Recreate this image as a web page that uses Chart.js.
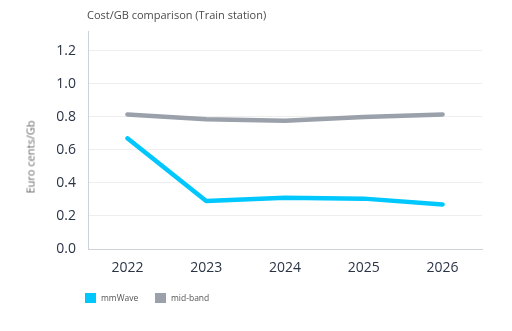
<!DOCTYPE html>
<html><head><meta charset="utf-8">
<script src="https://cdn.jsdelivr.net/npm/chart.js@4"></script>
<style>
html,body{margin:0;padding:0;background:#fff;}
#wrap{position:relative;width:512px;height:331px;font-family:"Open Sans",sans-serif;}
#c{position:absolute;left:0;top:0;}
#title{position:absolute;left:87px;top:7px;font-size:11px;color:#4a4a4a;white-space:nowrap;}
#ytitle{position:absolute;left:30px;top:157px;font-size:11px;font-weight:400;color:#6a6a6a;white-space:nowrap;transform:translate(-50%,-50%) rotate(-90deg);}
#legend{position:absolute;left:85px;top:292px;font-size:8.5px;color:#555;display:flex;align-items:center;}
.item{display:flex;align-items:center;}
.box{width:11px;height:10px;margin-right:5px;}
</style></head>
<body><div id="wrap">
<canvas id="c" width="512" height="331"></canvas>
<div id="title">Cost/GB comparison (Train station)</div>
<div id="ytitle">Euro cents/Gb</div>
<div id="legend"></div>
</div>
<script>
const categories = ["2022","2023","2024","2025","2026"];
const mmWave = [0.67, 0.29, 0.31, 0.305, 0.27];
const midBand = [0.815, 0.786, 0.776, 0.80, 0.815];
const seriesNames = ["mmWave","mid-band"];
const seriesColors = ["#00c8ff","#9aa1ab"];

const lg = document.getElementById('legend');
seriesNames.forEach((n,i)=>{
  const it=document.createElement('div');it.className='item';
  it.style.width = i===0 ? '70px' : 'auto';
  const b=document.createElement('div');b.className='box';b.style.background=seriesColors[i];
  const t=document.createElement('span');t.textContent=n;
  it.appendChild(b);it.appendChild(t);lg.appendChild(it);
});

new Chart(document.getElementById('c'),{
  type:'line',
  data:{labels:categories,datasets:[
    {label:seriesNames[0],data:mmWave,borderColor:seriesColors[0],backgroundColor:seriesColors[0],borderWidth:4.5,pointRadius:0,tension:0,borderCapStyle:'round',borderJoinStyle:'round'},
    {label:seriesNames[1],data:midBand,borderColor:seriesColors[1],backgroundColor:seriesColors[1],borderWidth:4.5,pointRadius:0,tension:0,borderCapStyle:'round',borderJoinStyle:'round'}
  ]},
  options:{
    responsive:false,animation:false,
    layout:{padding:{left:18,right:30,top:31,bottom:0}},
    plugins:{legend:{display:false},title:{display:false},tooltip:{enabled:false}},
    scales:{
      x:{offset:true,
        grid:{display:false,drawTicks:false},
        border:{color:'#cdd1d9',width:1},
        ticks:{padding:11,color:'#2b3445',font:{family:'Open Sans',size:14}},
        afterFit:s=>{s.height=82;}
      },
      y:{min:0,max:1.32,
        grid:{color:'#eeeeee',drawTicks:false},
        border:{color:'#cdd1d9',width:1},
        ticks:{stepSize:0.2,padding:12,color:'#2b3445',font:{family:'Open Sans',size:14},callback:v=>v.toFixed(1)},
        afterBuildTicks:s=>{s.ticks=s.ticks.filter(t=>t.value<=1.2001);},
        afterFit:s=>{s.width=70;}
      }
    }
  }
});
</script>
</body></html>
